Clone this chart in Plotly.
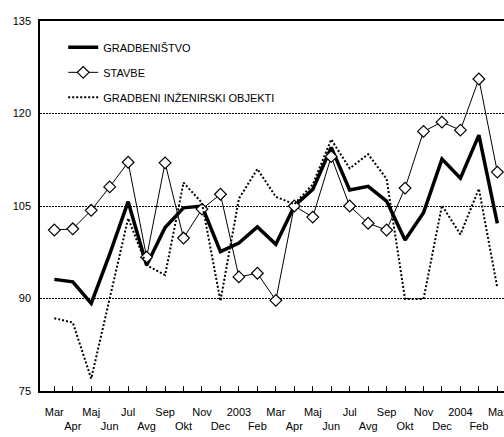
import plotly.graph_objects as go

months = ["Mar", "Apr", "Maj", "Jun", "Jul", "Avg", "Sep", "Okt", "Nov", "Dec", "2003", "Feb",
          "Mar", "Apr", "Maj", "Jun", "Jul", "Avg", "Sep", "Okt", "Nov", "Dec", "2004", "Feb", "Mar"]

gradbenistvo = [93.1, 92.7, 89.2, 97.2, 105.7, 95.4, 101.5, 104.7, 105.0, 97.6, 99.0, 101.6,
                98.8, 105.0, 107.7, 114.5, 107.6, 108.2, 105.8, 99.5, 103.9, 112.6, 109.5, 116.5, 102.2]

stavbe = [101.1, 101.3, 104.3, 108.1, 112.1, 96.7, 112.0, 99.8, 104.5, 106.9, 93.5, 94.1,
          89.7, 105.0, 103.2, 113.0, 105.0, 102.2, 101.1, 107.9, 117.1, 118.6, 117.3, 125.6, 110.5]

inzenirski = [86.8, 86.1, 77.0, 89.8, 103.0, 95.4, 93.8, 108.8, 105.5, 89.6, 106.2, 111.0,
              106.5, 105.3, 108.5, 115.8, 111.1, 113.4, 109.4, 89.9, 89.9, 105.1, 100.4, 107.8, 91.7]

y_ticks = [75, 90, 105, 120, 135]

x = list(range(len(months)))
ticktext = [m if i % 2 == 0 else "<br>" + m for i, m in enumerate(months)]

FONT = "Liberation Sans, Arial, sans-serif"

fig = go.Figure()
fig.add_trace(go.Scatter(
    x=x, y=gradbenistvo, name="GRADBENIŠTVO", mode="lines",
    line=dict(color="black", width=3.5), legendgroup="a"))
fig.add_trace(go.Scatter(
    x=x, y=stavbe, name="STAVBE", mode="lines+markers",
    line=dict(color="black", width=1),
    marker=dict(symbol="diamond", size=9, color="white", line=dict(color="black", width=1.2)),
    legendgroup="b"))
fig.add_trace(go.Scatter(
    x=x, y=inzenirski, name="GRADBENI INŽENIRSKI OBJEKTI", mode="lines",
    line=dict(color="black", width=2, dash="2px,2px"), legendgroup="c"))

fig.update_layout(
    width=504, height=437,
    margin=dict(l=40, r=0, t=21, b=46, pad=0),
    paper_bgcolor="white", plot_bgcolor="white",
    font=dict(family=FONT, size=11, color="black"),
    showlegend=True,
    legend=dict(x=0.05, y=0.968, xanchor="left", yanchor="top",
                bgcolor="rgba(0,0,0,0)", font=dict(family=FONT, size=11, color="black"),
                traceorder="grouped", tracegroupgap=6, itemwidth=30),
    xaxis=dict(
        range=[-0.775, 24.36], tickmode="array", tickvals=x, ticktext=ticktext,
        showgrid=False, zeroline=False, showline=True, linecolor="black", linewidth=1.5,
        mirror=True, ticks="inside", ticklen=5, tickwidth=1, tickcolor="black",
        ticklabelstandoff=10, ticklabeloverflow="allow", automargin=False, tickangle=0,
        tickfont=dict(family=FONT, size=11, color="black")),
    yaxis=dict(
        range=[75, 135], tickmode="array", tickvals=y_ticks,
        showgrid=True, gridcolor="black", gridwidth=1.2, griddash="2px,1px",
        zeroline=False, showline=True, linecolor="black", linewidth=1.5,
        ticks="", ticklabelstandoff=5, automargin=False,
        tickfont=dict(family=FONT, size=11, color="black")),
)

fig.write_html(
    "out.html",
    config={"displayModeBar": False},
    post_script="document.body.style.margin='0';document.body.style.overflow='hidden';",
)
